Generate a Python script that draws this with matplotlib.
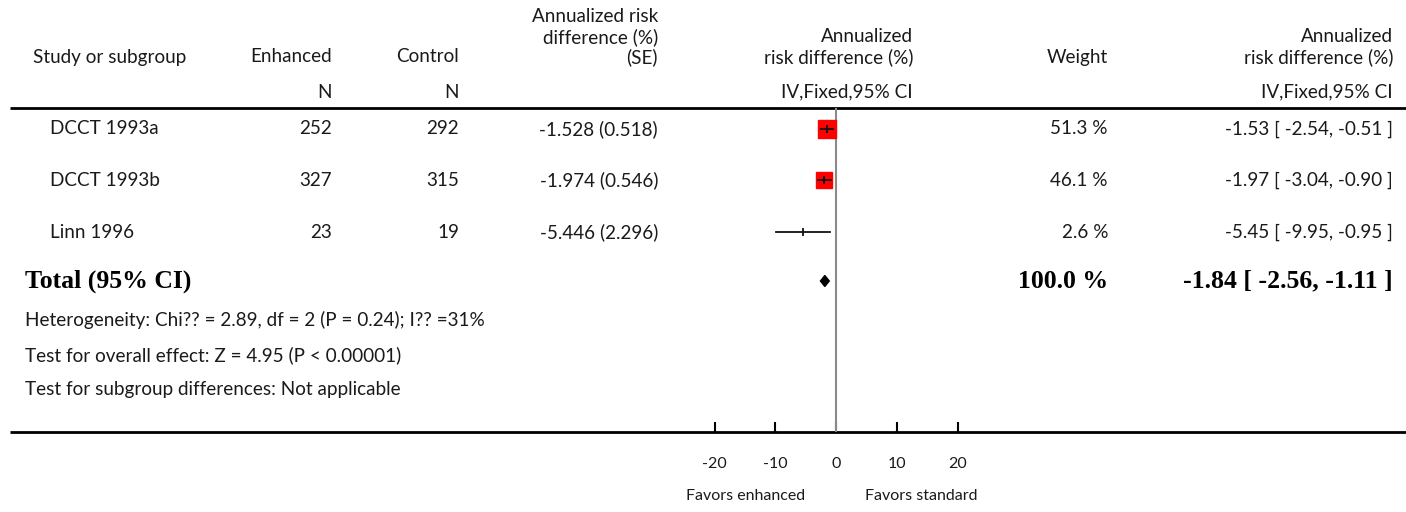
import matplotlib
matplotlib.use("Agg")
import matplotlib.pyplot as plt
from matplotlib.patches import Polygon

plt.rcParams['font.family'] = ['Lato', 'DejaVu Sans']

studies = ["DCCT 1993a", "DCCT 1993b", "Linn 1996"]
n_enh = [252, 327, 23]
n_ctl = [292, 315, 19]
rd = [-1.528, -1.974, -5.446]
se = [0.518, 0.546, 2.296]
weight = [51.3, 46.1, 2.6]
ci_lo = [-2.54, -3.04, -9.95]
ci_hi = [-0.51, -0.90, -0.95]
tot_est, tot_lo, tot_hi, tot_w = -1.84, -2.56, -1.11, 100.0
ticks = [-20, -10, 0, 10, 20]

W, H = 1406, 512
fig = plt.figure(figsize=(W / 100, H / 100), dpi=100)
ax = fig.add_axes([0, 0, 1, 1])
ax.set_xlim(0, W)
ax.set_ylim(H, 0)
ax.axis("off")

# layout (pixels)
row_y = [129, 180, 232]
tot_y = 281
top_line, bot_line = 108, 432
fs = 13.6
tc = "#1a1a1a"

# header
ax.text(33, 57, "Study or subgroup", ha="left", va="center", fontsize=fs, color=tc)
ax.text(332, 57, "Enhanced", ha="right", va="center", fontsize=fs, color=tc)
ax.text(332, 92, "N", ha="right", va="center", fontsize=fs, color=tc)
ax.text(459, 57, "Control", ha="right", va="center", fontsize=fs, color=tc)
ax.text(459, 92, "N", ha="right", va="center", fontsize=fs, color=tc)
ax.text(658, 17, "Annualized risk", ha="right", va="center", fontsize=fs, color=tc)
ax.text(658, 37, "difference (%)", ha="right", va="center", fontsize=fs, color=tc)
ax.text(658, 57, "(SE)", ha="right", va="center", fontsize=fs, color=tc)
ax.text(913, 37, "Annualized", ha="right", va="center", fontsize=fs, color=tc)
ax.text(913, 57, "risk difference (%)", ha="right", va="center", fontsize=fs, color=tc)
ax.text(913, 92, "IV,Fixed,95% CI", ha="right", va="center", fontsize=fs, color=tc)
ax.text(1108, 57, "Weight", ha="right", va="center", fontsize=fs, color=tc)
ax.text(1393, 37, "Annualized", ha="right", va="center", fontsize=fs, color=tc)
ax.text(1393, 57, "risk difference (%)", ha="right", va="center", fontsize=fs, color=tc)
ax.text(1393, 92, "IV,Fixed,95% CI", ha="right", va="center", fontsize=fs, color=tc)

ax.plot([10, W], [top_line, top_line], color="black", lw=2, solid_capstyle="butt")
ax.plot([10, W], [bot_line, bot_line], color="black", lw=2, solid_capstyle="butt")

# study rows
for i, y in enumerate(row_y):
    ax.text(50, y, studies[i], ha="left", va="center", fontsize=fs, color=tc)
    ax.text(332, y, str(n_enh[i]), ha="right", va="center", fontsize=fs, color=tc)
    ax.text(459, y, str(n_ctl[i]), ha="right", va="center", fontsize=fs, color=tc)
    ax.text(658, y, "%.3f (%.3f)" % (rd[i], se[i]), ha="right", va="center", fontsize=fs, color=tc)
    ax.text(1108, y, "%.1f %%" % weight[i], ha="right", va="center", fontsize=fs, color=tc)
    ax.text(1393, y, "%.2f [ %.2f, %.2f ]" % (rd[i], ci_lo[i], ci_hi[i]),
            ha="right", va="center", fontsize=fs, color=tc)

# total row
bold = dict(family="Liberation Serif", weight="bold", fontsize=18.5, color="black")
ax.text(25, tot_y, "Total (95% CI)", ha="left", va="center", **bold)
ax.text(1108, tot_y, "%.1f %%" % tot_w, ha="right", va="center", **bold)
ax.text(1393, tot_y, "%.2f [ %.2f, %.2f ]" % (tot_est, tot_lo, tot_hi), ha="right", va="center", **bold)

ax.text(25, 320, "Heterogeneity: Chi?? = 2.89, df = 2 (P = 0.24); I?? =31%", ha="left", va="center", fontsize=fs, color=tc)
ax.text(25, 355, "Test for overall effect: Z = 4.95 (P < 0.00001)", ha="left", va="center", fontsize=fs, color=tc)
ax.text(25, 389, "Test for subgroup differences: Not applicable", ha="left", va="center", fontsize=fs, color=tc)

ax.text(746, 496, "Favors enhanced", ha="center", va="center", fontsize=11.5, color=tc)
ax.text(921, 496, "Favors standard", ha="center", va="center", fontsize=11.5, color=tc)

# forest panel
x0, x1 = 714.5, 957.5
fa = fig.add_axes([x0 / W, (H - bot_line) / H, (x1 - x0) / W, (bot_line - top_line) / H])
fa.set_xlim(-20, 20)
fa.set_ylim(bot_line, top_line)
fa.patch.set_alpha(0)
for s in fa.spines.values():
    s.set_visible(False)
fa.set_yticks([])
fa.set_xticks(ticks)
fa.set_xticklabels([str(t) for t in ticks])
fa.tick_params(axis="x", direction="in", length=7, width=1.5, pad=18, labelsize=11.5, labelcolor=tc)
fa.axvline(0, color="#8a8a8a", lw=1.5)

max_side = 18.5 * 0.72
for i, y in enumerate(row_y):
    side = max_side * weight[i] / max(weight)
    if side > 2:
        fa.plot(rd[i], y, marker="s", markersize=side, color="#ff0000", mec="#ff0000", ls="none", zorder=2)
    fa.plot([ci_lo[i], ci_hi[i]], [y, y], color="#111111", lw=1.3, zorder=3)
    fa.plot(rd[i], y, marker="|", markersize=6, mew=1.3, color="#111111", ls="none", zorder=3)

dh = 5.5
fa.add_patch(Polygon([(tot_lo, tot_y), (tot_est, tot_y - dh), (tot_hi, tot_y), (tot_est, tot_y + dh)],
                     closed=True, color="black", zorder=3))

fig.savefig("out.png", dpi=100)
